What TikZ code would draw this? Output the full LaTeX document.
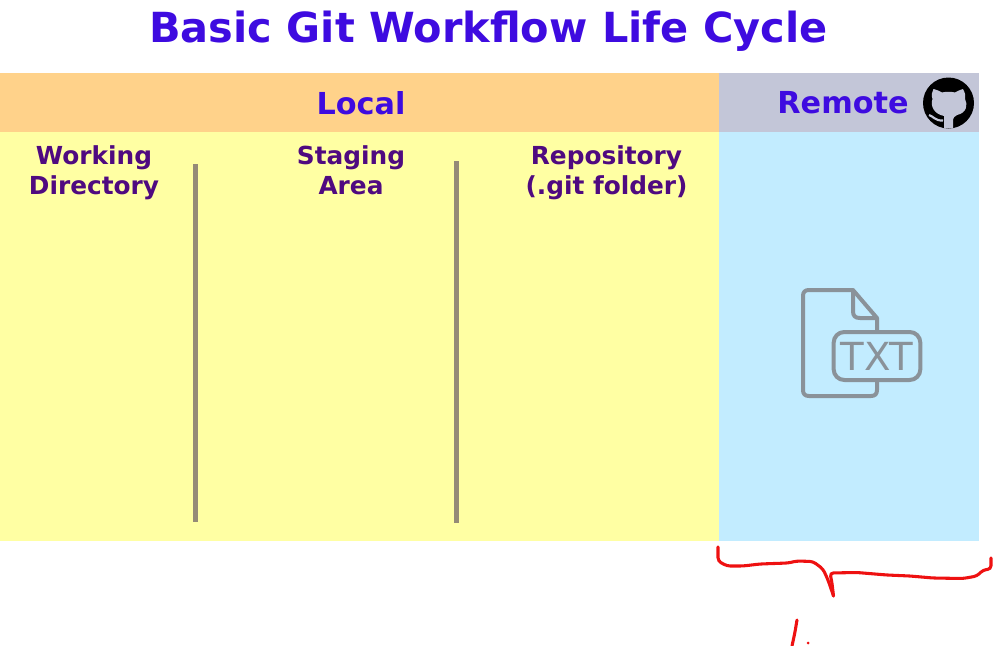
\documentclass[tikz,border=0pt]{standalone}
\usepackage{fontspec}
\setmainfont{DejaVu Sans}
\usetikzlibrary{positioning}
\definecolor{titleblue}{HTML}{3E0BE0}
\definecolor{headpurple}{HTML}{4F0A80}
\definecolor{localorange}{HTML}{FFD28A}
\definecolor{remotegray}{HTML}{C3C6D8}
\definecolor{localyellow}{HTML}{FFFFA3}
\definecolor{remoteblue}{HTML}{C2ECFF}
\definecolor{dividergray}{HTML}{958B77}
\definecolor{icongray}{HTML}{8A9299}
\definecolor{penred}{HTML}{EE1111}
\begin{document}
\begin{tikzpicture}[x=0.75pt, y=-0.75pt,
            panel/.style={inner sep=0pt, outer sep=0pt, anchor=north west},
            header/.style={font=\fontsize{22.7}{26}\selectfont\bfseries, text=titleblue},
            column/.style={font=\fontsize{18.6}{22.5}\selectfont\bfseries, text=headpurple, align=center, anchor=north, inner sep=0pt},
            divider/.style={draw=dividergray, line width=3.6pt},
            icon/.style={draw=icongray, line width=3pt, line join=round},
            pen/.style={draw=penred, line width=2.3pt, rounded corners=2.5pt, line cap=round}]
            \useasboundingbox (0,0) rectangle (993,646);

            \node[panel, fill=localorange, minimum width=539.25pt, minimum height=44.25pt] (localbar) at (0,73) {};
            \node[panel, fill=remotegray, minimum width=195pt, minimum height=44.25pt] (remotebar) at (719,73) {};
            \node[panel, fill=localyellow, minimum width=539.25pt, minimum height=306.75pt] (localarea) at (0,132) {};
            \node[panel, fill=remoteblue, minimum width=195pt, minimum height=306.75pt] (remotearea) at (719,132) {};

            \node[font=\fontsize{31.1}{36}\selectfont\bfseries, text=titleblue, inner sep=0pt] (title) at (488.5,31) {Basic Git Workflow Life Cycle};
            \node[header, inner sep=0pt] (local) at (361,103) {Local};
            \node[header, inner sep=0pt] (remote) at (843,103) {Remote};

            \node[column] (working) at (94,145) {Working\\Directory};
            \node[column] (staging) at (351,145) {Staging\\Area};
            \node[column] (repository) at (606.5,145) {Repository\\(.git folder)};

            \draw[divider] (195.5,164) -- (195.5,522);
            \draw[divider] (456.5,161) -- (456.5,523);

            \fill[black] (948.5,103) circle (25.5);
            \fill[remotegray] (933.5,89) .. controls (937,90) and (940,91) .. (942,92.5)
                .. controls (946,91.5) and (951,91.5) .. (955,92.5)
                .. controls (957,91) and (960,90) .. (963,89)
                .. controls (965,93) and (966,96) .. (965,99)
                .. controls (968,104) and (967,113) .. (957,115)
                .. controls (954,116) and (953,118) .. (953,122)
                -- (953,128) -- (944,128) -- (944,116)
                .. controls (934,114) and (930,106) .. (932.5,99)
                .. controls (931,95) and (932,92) .. (933.5,89) -- cycle;
            \draw[remotegray, line width=1.6pt] (929,115) .. controls (933,116) and (935,121) .. (943,120.5);

            \draw[icon] (877,331) -- (877,318) -- (853,290) -- (809,290)
                .. controls (805,290) and (803,292) .. (803,296) -- (803,390)
                .. controls (803,394) and (805,396) .. (809,396) -- (871,396)
                .. controls (875,396) and (877,394) .. (877,390) -- (877,381);
            \draw[icon] (853,290) -- (853,311) .. controls (853,316) and (855,318) .. (860,318) -- (877,318);
            \node[icon, rounded corners=8pt, minimum width=65pt, minimum height=36pt, inner sep=0pt, font=\fontsize{29}{30}\selectfont, text=icongray] (txt) at (877,356) {TXT};

            \coordinate (braceleft) at (718,547);
            \coordinate (braceright) at (991,558);
            \coordinate (bracetip) at (833.5,596);
            \draw[pen] (braceleft) -- (718,561) -- (727,566) -- (743,566) -- (760,564) -- (788,563) -- (797,561) -- (813,561.5) -- (823,569) -- (828,580) -- (bracetip);
            \draw[pen] (bracetip) -- (832,583) -- (830,573) -- (857,572.5) -- (887,575) -- (910,576) -- (933,578) -- (963,578.5) -- (977,576) -- (983,570) -- (991,569) -- (braceright);
            \draw[pen] (797,620) -- (795,632) -- (792,646);
            \fill[penred] (808,643) circle (1.5);
        \end{tikzpicture}
\end{document}
